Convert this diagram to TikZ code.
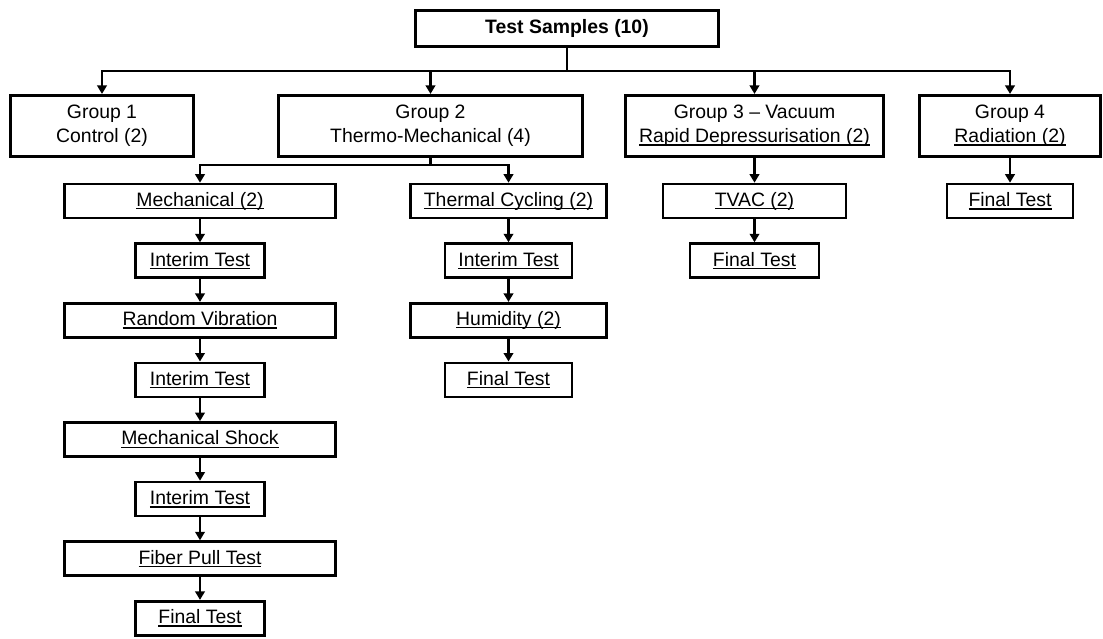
\documentclass[tikz,border=0pt]{standalone}
\usepackage{fontspec}
\setmainfont{Liberation Sans}
\usetikzlibrary{arrows.meta,positioning}
\newcommand{\ulabel}[1]{\setbox0\hbox{#1}\rlap{\rule[-3pt]{\wd0}{1.4pt}}\box0}

\begin{document}
\begin{tikzpicture}[x=1pt,y=-1pt,node distance=23pt,
    font=\fontsize{19.4}{24}\selectfont,
    box/.style={draw,line width=2.6pt,inner sep=0pt,minimum height=34pt,align=center},
    groupbox/.style={box,minimum height=61.5pt},
    conn/.style={line width=2.6pt},
    flow/.style={conn,-{Triangle[width=9.5pt,length=8.5pt]}}]
  \useasboundingbox (0,0) rectangle (1103,639);
  % top and the four groups
  \node[box,minimum width=303pt,minimum height=36.5pt,font=\fontsize{19.4}{24}\selectfont\bfseries] (samples) at (567,28.5) {Test Samples (10)};
  \node[groupbox,minimum width=183pt] (g1) at (102,126) {Group 1\\Control (2)};
  \node[groupbox,minimum width=304pt] (g2) at (430.5,126) {Group 2\\Thermo-Mechanical (4)};
  \node[groupbox,minimum width=258pt] (g3) at (754.5,126) {Group 3 – Vacuum\\\ulabel{Rapid Depressurisation (2)}};
  \node[groupbox,minimum width=181pt] (g4) at (1010,126) {Group 4\\\ulabel{Radiation (2)}};
  \coordinate (split) at (567,71);
  \draw[conn] (samples) -- (split);
  \foreach \g in {g1,g2,g3,g4}
    \draw[flow] (split) -| (\g.north);
  % group 2 branches
  \node[box,minimum width=271pt] (mech) at (200,201) {\ulabel{Mechanical (2)}};
  \node[box,minimum width=129pt,below=of mech] (int1) {\ulabel{Interim Test}};
  \node[box,minimum width=271pt,below=of int1] (vib) {\ulabel{Random Vibration}};
  \node[box,minimum width=129pt,below=of vib] (int2) {\ulabel{Interim Test}};
  \node[box,minimum width=271pt,below=of int2] (shock) {\ulabel{Mechanical Shock}};
  \node[box,minimum width=129pt,below=of shock] (int3) {\ulabel{Interim Test}};
  \node[box,minimum width=271pt,below=of int3] (pull) {\ulabel{Fiber Pull Test}};
  \node[box,minimum width=129pt,below=of pull] (final1) {\ulabel{Final Test}};
  \node[box,minimum width=196pt] (therm) at (508.5,201) {\ulabel{Thermal Cycling (2)}};
  \node[box,minimum width=127pt,below=of therm] (int4) {\ulabel{Interim Test}};
  \node[box,minimum width=196pt,below=of int4] (humid) {\ulabel{Humidity (2)}};
  \node[box,minimum width=127pt,below=of humid] (final2) {\ulabel{Final Test}};
  \coordinate (split2) at (430.5,165);
  \draw[conn] (g2) -- (split2);
  \foreach \t in {mech,therm}
    \draw[flow] (split2) -| (\t.north);
  % groups 3 and 4
  \node[box,minimum width=183pt] (tvac) at (754.5,201) {\ulabel{TVAC (2)}};
  \node[box,minimum width=129pt,below=of tvac] (final3) {\ulabel{Final Test}};
  \node[box,minimum width=126pt] (final4) at (1010,201) {\ulabel{Final Test}};
  \foreach \a/\b in {mech/int1,int1/vib,vib/int2,int2/shock,shock/int3,int3/pull,pull/final1,
      therm/int4,int4/humid,humid/final2,g3/tvac,tvac/final3,g4/final4}
    \draw[flow] (\a) -- (\b);
\end{tikzpicture}
\end{document}
